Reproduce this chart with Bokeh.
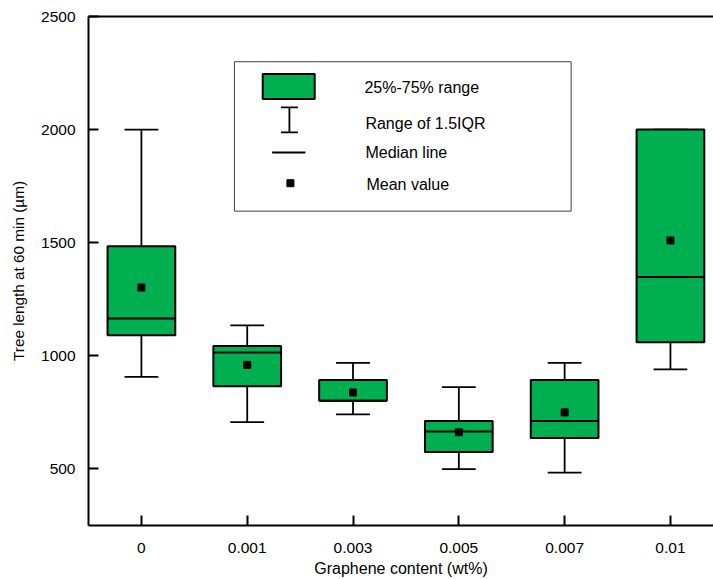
from bokeh.plotting import figure
from bokeh.models import Range1d, FixedTicker, LinearAxis, ColumnDataSource
from bokeh.core.properties import value
from bokeh.embed import file_html
from bokeh.resources import INLINE

categories = ["0", "0.001", "0.003", "0.005", "0.007", "0.01"]
whisker_low = [907, 707, 741, 499, 484, 940]
q1 = [1091, 865, 801, 575, 637, 1060]
median = [1165, 1015, 801, 665, 712, 1349]
q3 = [1484, 1044, 893, 712, 893, 2000]
whisker_high = [2000, 1135, 969, 862, 969, 2000]
mean = [1302, 960, 838, 662, 750, 1510]
y_ticks = [500, 1000, 1500, 2000, 2500]

FONT = "Liberation Sans"
GREEN = "#00B050"

idx = list(range(len(categories)))
box_w = 0.64
cap_w = 0.32

p = figure(width=713, height=579, output_backend="svg", toolbar_location=None,
           x_range=Range1d(-0.5, 5.407), y_range=Range1d(250, 2500),
           min_border_left=88, min_border_right=0, min_border_top=16, min_border_bottom=53)
p.outline_line_color = None
p.xgrid.visible = False
p.ygrid.visible = False
p.background_fill_color = "white"
p.border_fill_color = "white"

src = ColumnDataSource(dict(x=idx, lo=whisker_low, q1=q1, med=median, q3=q3, hi=whisker_high, mean=mean,
                            xl=[i - cap_w / 2 for i in idx], xr=[i + cap_w / 2 for i in idx],
                            ml=[i - box_w / 2 for i in idx], mr=[i + box_w / 2 for i in idx]))

# whiskers
p.segment(x0="x", y0="q3", x1="x", y1="hi", source=src, line_color="black", line_width=1.8)
p.segment(x0="x", y0="lo", x1="x", y1="q1", source=src, line_color="black", line_width=1.8)
p.segment(x0="xl", y0="hi", x1="xr", y1="hi", source=src, line_color="black", line_width=1.8)
p.segment(x0="xl", y0="lo", x1="xr", y1="lo", source=src, line_color="black", line_width=1.8)
# boxes
p.vbar(x="x", width=box_w, bottom="q1", top="q3", source=src, fill_color=GREEN, line_color="black", line_width=2)
# median
p.segment(x0="ml", y0="med", x1="mr", y1="med", source=src, line_color="black", line_width=2)
# mean
p.scatter(x="x", y="mean", source=src, marker="square", size=7, fill_color="black", line_color="black")

# legend (decoration), positioned via pixel -> data helpers
def px2x(px):
    return (px - 141) / 105.8

def px2y(py):
    return 2000 - (py - 129) * 4.4118

p.quad(left=px2x(234), right=px2x(570.7), top=px2y(61), bottom=px2y(210.7),
       fill_color="white", line_color="#404040", line_width=1)
p.quad(left=px2x(262.3), right=px2x(314.3), top=px2y(73.3), bottom=px2y(98.3),
       fill_color=GREEN, line_color="black", line_width=2)
p.segment(x0=[px2x(289), px2x(280.5), px2x(280.5)], x1=[px2x(289), px2x(297.5), px2x(297.5)],
          y0=[px2y(106.7), px2y(106.7), px2y(131.7)], y1=[px2y(131.7), px2y(106.7), px2y(131.7)],
          line_color="black", line_width=1.8)
p.segment(x0=[px2x(271.7)], x1=[px2x(305)], y0=[px2y(152)], y1=[px2y(152)], line_color="black", line_width=2)
p.scatter(x=[px2x(290)], y=[px2y(182.7)], marker="square", size=7, fill_color="black", line_color="black")
leg_labels = ["25%-75% range", "Range of 1.5IQR", "Median line", "Mean value"]
leg_x = [px2x(364), px2x(365), px2x(365), px2x(366)]
leg_y = [px2y(86.7), px2y(123), px2y(151.7), px2y(184)]
p.text(x=leg_x, y=leg_y, text=leg_labels, text_font=value(FONT), text_font_size="16px",
       text_baseline="middle", text_align="left", text_color="black")

# axes
for ax in (p.xaxis[0], p.yaxis[0]):
    ax.axis_line_width = 2
    ax.major_tick_line_width = 2
    ax.major_tick_in = 10
    ax.major_tick_out = 0
    ax.minor_tick_line_color = None
    ax.major_label_text_font = FONT
    ax.major_label_text_font_size = "15.5px"
    ax.major_label_text_color = "black"
    ax.axis_label_text_font = FONT
    ax.axis_label_text_font_style = "normal"
    ax.axis_label_text_color = "black"

p.xaxis.ticker = FixedTicker(ticks=idx)
p.xaxis.major_label_overrides = {i: c for i, c in zip(idx, categories)}
p.xaxis.axis_label = "Graphene content (wt%)"
p.xaxis.axis_label_text_font_size = "16px"
p.xaxis.major_label_standoff = 17
p.xaxis.axis_label_standoff = 4
p.yaxis.ticker = FixedTicker(ticks=y_ticks)
p.yaxis.axis_label = "Tree length at 60 min (µm)"
p.yaxis.axis_label_text_font_size = "15.3px"
p.yaxis.major_label_standoff = 13
p.yaxis.axis_label_standoff = 11

top_axis = LinearAxis(ticker=FixedTicker(ticks=[]), axis_line_width=2, major_tick_line_color=None,
                      minor_tick_line_color=None, major_label_text_font_size="0px")
p.add_layout(top_axis, "above")

open("out.html", "w").write(file_html(p, INLINE))
